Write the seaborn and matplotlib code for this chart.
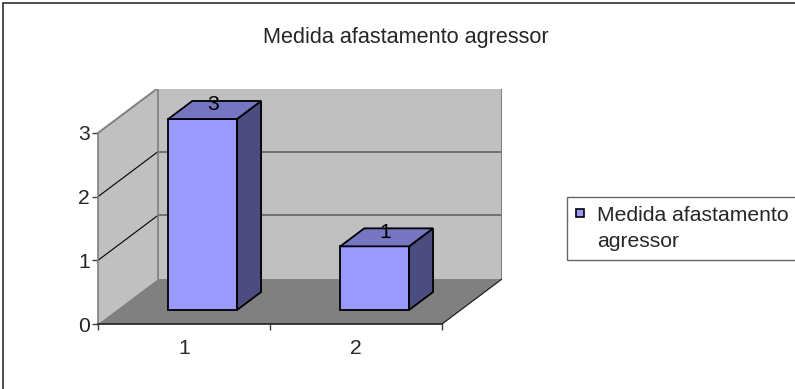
import matplotlib
matplotlib.use("Agg")
import matplotlib.pyplot as plt
from matplotlib.patches import Polygon
from matplotlib.lines import Line2D
import seaborn as sns
import pandas as pd

# Data
categories = ["1", "2"]
values = [3, 1]
series_name = "Medida afastamento agressor"
legend_lines = ["Medida afastamento", "agressor"]
y_ticks = [0, 1, 2, 3]

sns.set_style("white")
plt.rcParams["font.family"] = ["Liberation Sans", "DejaVu Sans"]

W, H, DPI = 795, 389, 100
fig = plt.figure(figsize=(W / DPI, H / DPI), dpi=DPI)
FS = 15.2

# Pixel geometry of the 3D box
px_per_cat = 172.0
px_per_val = 63.67
depth_px = (60.0, 45.0)
left_px, floor_px = 98.0, 324.0
ax_w_px, ax_h_px = 404.0, 235.0

ax = fig.add_axes([left_px / W, (H - floor_px) / H, ax_w_px / W, ax_h_px / H])
ax.set_facecolor("none")

ddx = depth_px[0] / px_per_cat      # depth offset in category units
ddy = depth_px[1] / px_per_val      # depth offset in value units
x0, x1 = -0.5, len(categories) - 0.5
ytop = max(y_ticks)

df = pd.DataFrame({"cat": categories, "val": values})
sns.barplot(data=df, x="cat", y="val", color="#9999FF", saturation=1,
            width=0.4, edgecolor="black", linewidth=1.3, ax=ax, zorder=5)

ax.set_xlim(x0, x0 + ax_w_px / px_per_cat)
ax.set_ylim(0, ax_h_px / px_per_val)

wall_c = "#C0C0C0"
floor_c = "#808080"
edge_c = "#808080"

# back wall, left wall, floor
ax.add_patch(Polygon([(x0 + ddx, ddy), (x1 + ddx, ddy), (x1 + ddx, ytop + ddy), (x0 + ddx, ytop + ddy)],
                     closed=True, facecolor=wall_c, edgecolor="none", zorder=0))
ax.add_patch(Polygon([(x0, 0), (x0 + ddx, ddy), (x0 + ddx, ytop + ddy), (x0, ytop)],
                     closed=True, facecolor=wall_c, edgecolor="none", zorder=0))
ax.add_patch(Polygon([(x0, 0), (x1, 0), (x1 + ddx, ddy), (x0 + ddx, ddy)],
                     closed=True, facecolor=floor_c, edgecolor="none", zorder=1))

# gridlines
for k in y_ticks[1:-1]:
    ax.plot([x0 + ddx, x1 + ddx], [k + ddy, k + ddy], color="#6a6a6a", lw=1.3, zorder=2)
    ax.plot([x0, x0 + ddx], [k, k + ddy], color="black", lw=0.8, zorder=2)

# box edges
ax.plot([x0, x0 + ddx, x1 + ddx, x1 + ddx], [ytop, ytop + ddy, ytop + ddy, ddy],
        color=edge_c, lw=1.4, zorder=2)
ax.plot([x0 + ddx, x0 + ddx], [ddy, ytop + ddy], color=edge_c, lw=1.2, zorder=2)
ax.plot([x1, x1 + ddx], [0, ddy], color="#202020", lw=0.9, zorder=2)

# place bars in the middle of the depth and add top / side faces
f0, d = 0.311, 0.40
top_c, side_c = "#7575C2", "#4C4C80"
for patch, v in zip(ax.patches[:len(values)], values):
    patch.set_x(patch.get_x() + f0 * ddx)
    patch.set_y(f0 * ddy)
    bx, by, bw, bh = patch.get_x(), patch.get_y(), patch.get_width(), patch.get_height()
    side = [(bx + bw, by), (bx + bw + d * ddx, by + d * ddy),
            (bx + bw + d * ddx, by + bh + d * ddy), (bx + bw, by + bh)]
    top = [(bx, by + bh), (bx + bw, by + bh),
           (bx + bw + d * ddx, by + bh + d * ddy), (bx + d * ddx, by + bh + d * ddy)]
    ax.add_patch(Polygon(side, closed=True, facecolor=side_c, edgecolor="black", lw=1.3, zorder=5))
    ax.add_patch(Polygon(top, closed=True, facecolor=top_c, edgecolor="black", lw=1.3, zorder=5))
    ax.annotate(str(v), xy=(bx + bw / 2 + d / 2 * ddx, by + bh + d / 2 * ddy),
                xytext=(-1, 3.8), textcoords="offset points", ha="center", va="center",
                fontsize=FS, color="black", zorder=6)

# axes
for s in ("top", "right"):
    ax.spines[s].set_visible(False)
ax.spines["left"].set_bounds(0, ytop)
ax.spines["left"].set_color(edge_c)
ax.spines["left"].set_linewidth(1.2)
ax.spines["bottom"].set_bounds(x0, x1)
ax.spines["bottom"].set_color("#202020")
ax.spines["bottom"].set_linewidth(1.2)
ax.spines["left"].set_zorder(3)
ax.spines["bottom"].set_zorder(3)

ax.set_yticks(y_ticks)
ax.set_yticklabels([str(t) for t in y_ticks])
ax.tick_params(axis="y", direction="out", length=4, width=1, color="#404040",
               pad=2, labelsize=FS, left=True)
ax.set_xticks([x0 + i for i in range(len(categories) + 1)])
ax.set_xticklabels([""] * (len(categories) + 1))
ax.set_xticks(range(len(categories)), minor=True)
ax.set_xticklabels(categories, minor=True)
ax.tick_params(axis="x", which="major", direction="out", length=4, width=1, color="#404040", bottom=True)
ax.tick_params(axis="x", which="minor", length=0, pad=11, labelsize=FS)
ax.set_xlabel("")
ax.set_ylabel("")

# title
fig.text(406 / W, 1 - 37 / H, series_name, ha="center", va="center", fontsize=15.6)

# legend: series key on the first line, wrapped name continues below
handle = plt.Rectangle((0, 0), 1, 1, facecolor="#9999FF", edgecolor="black", lw=1.2)
blank = plt.Rectangle((0, 0), 1, 1, visible=False)
leg = fig.legend([handle, blank], legend_lines, loc="upper left",
                 bbox_to_anchor=(567 / W, 1 - 197 / H), fontsize=FS, frameon=True,
                 handlelength=0.4, handleheight=0.24, handletextpad=0.62,
                 borderpad=0.42, labelspacing=0.36, fancybox=False, borderaxespad=0)
leg.get_frame().set_edgecolor("#404040")
leg.get_frame().set_linewidth(1.0)

# outer chart border
fig.add_artist(Line2D([2.5 / W, 1.0], [1 - 2.5 / H, 1 - 2.5 / H], transform=fig.transFigure,
                      color="#404040", lw=1.3))
fig.add_artist(Line2D([2.5 / W, 2.5 / W], [0.0, 1 - 2.5 / H], transform=fig.transFigure,
                      color="#404040", lw=1.3))

fig.savefig("out.png", dpi=DPI)
